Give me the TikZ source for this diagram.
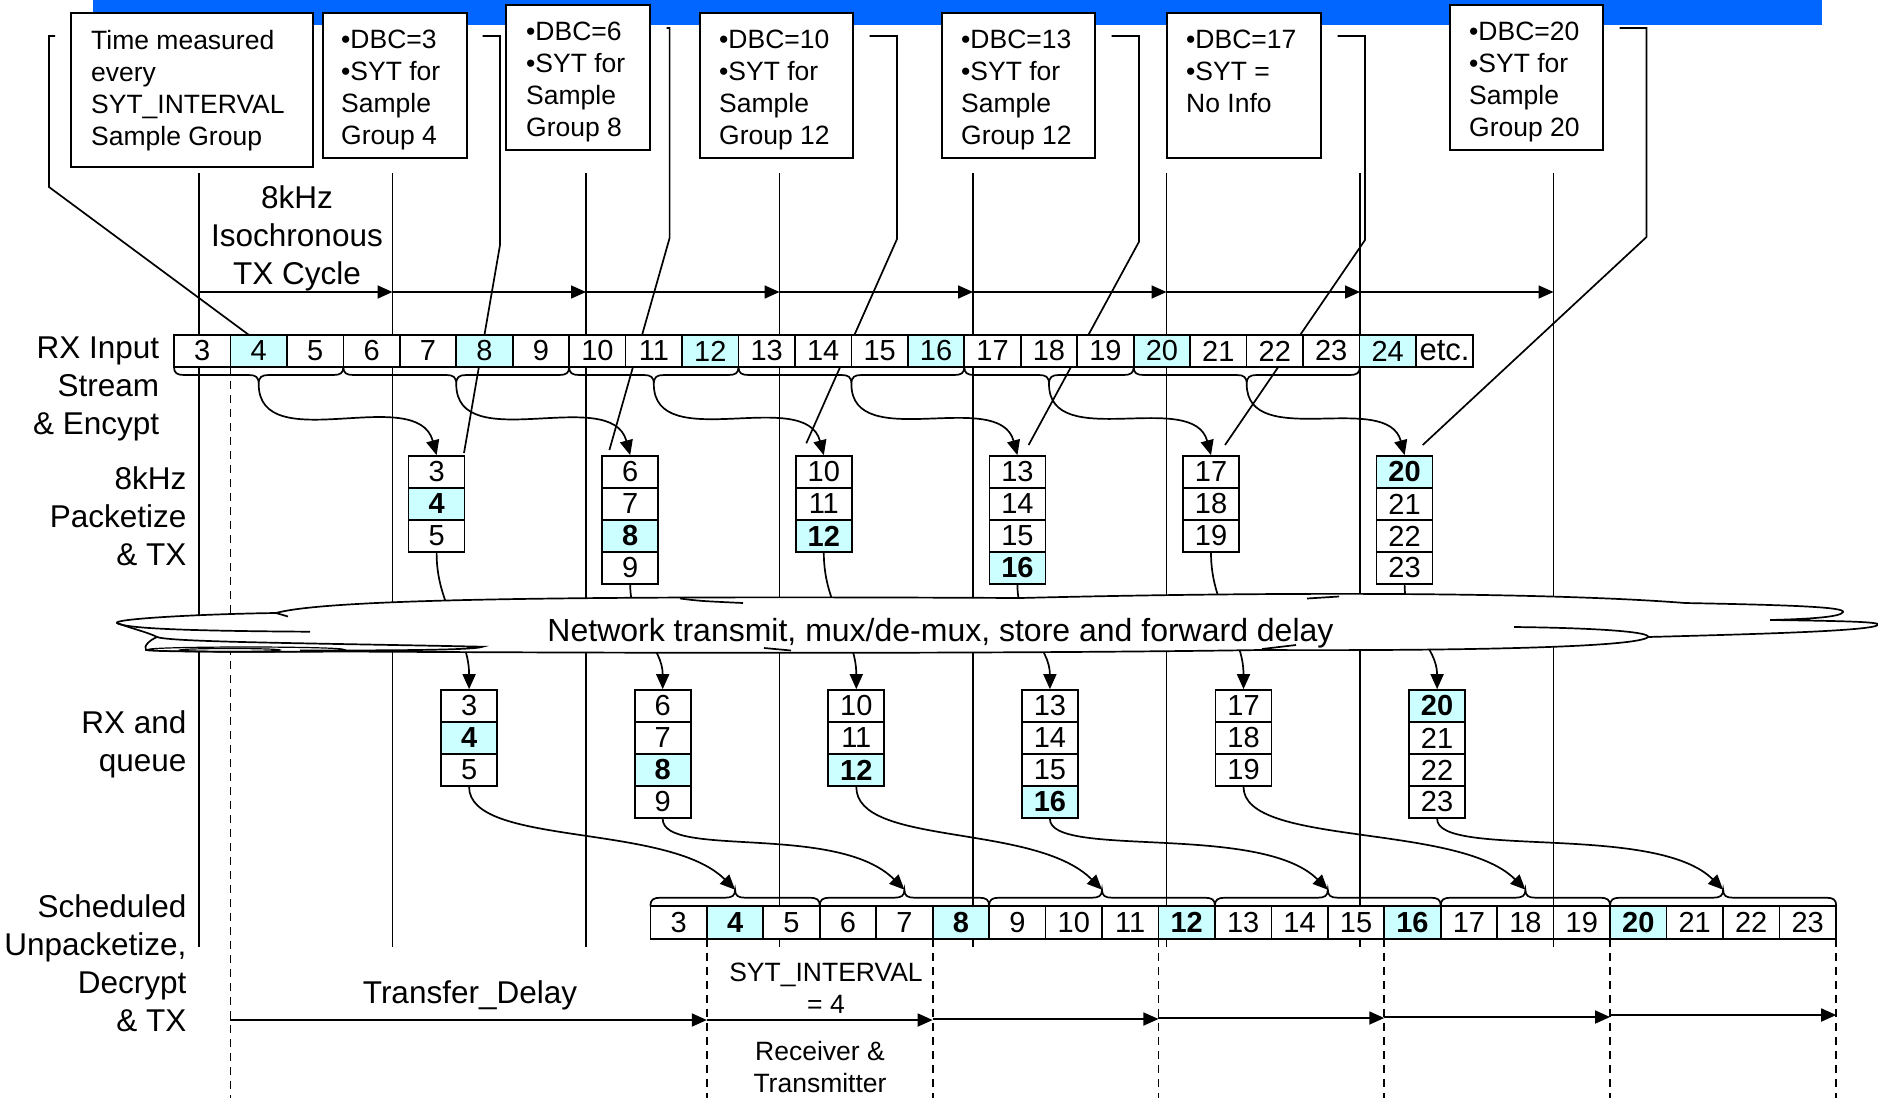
\documentclass[tikz,border=0pt]{standalone}
\usepackage{fontspec}
\setmainfont{Liberation Sans}
\usetikzlibrary{arrows.meta}
\definecolor{barblue}{RGB}{0,102,255}
\definecolor{cyanfill}{RGB}{204,255,255}
\newcommand\myBig{\fontsize{31.5}{38}\selectfont}
\newcommand\mySmall{\fontsize{26.5}{32}\selectfont}
\newcommand\myNum{\fontsize{29}{34}\selectfont}
\newcommand\bracedn[4]{%
  \draw[ln] (#1,#4) .. controls (#1,#4+6) and (#1+3,#4+8) .. (#1+10,#4+8) -- (#2-10,#4+8)
    .. controls (#2-3,#4+8) and (#2,#4+10) .. (#2,#4+17)
    .. controls (#2,#4+10) and (#2+3,#4+8) .. (#2+10,#4+8) -- (#3-10,#4+8)
    .. controls (#3-3,#4+8) and (#3,#4+6) .. (#3,#4);}
\newcommand\braceup[4]{%
  \draw[ln] (#1,#4) .. controls (#1,#4-6) and (#1+3,#4-8) .. (#1+10,#4-8) -- (#2-10,#4-8)
    .. controls (#2-3,#4-8) and (#2,#4-10) .. (#2,#4-16)
    .. controls (#2,#4-10) and (#2+3,#4-8) .. (#2+10,#4-8) -- (#3-10,#4-8)
    .. controls (#3-3,#4-8) and (#3,#4-6) .. (#3,#4);}
\tikzset{
  ln/.style={line width=1.7pt},
  cell/.style={draw, line width=1.7pt, fill=white, minimum width=56.45pt, minimum height=32pt, inner sep=0pt, font=\myNum},
  hcell/.style={cell, fill=cyanfill},
  bcell/.style={cell, fill=cyanfill, font=\myNum\bfseries},
  tbox/.style={draw, line width=1.7pt, fill=white, anchor=north west, inner sep=0pt},
  btext/.style={anchor=north west, inner sep=0pt, align=left, font=\mySmall},
  lab/.style={anchor=north east, inner sep=0pt, align=right, font=\myBig},
  arr/.style={line width=1.7pt, -{Triangle[length=15pt,width=13pt]}},
  dline/.style={line width=1.7pt, dash pattern=on 8pt off 6pt},
}
\begin{document}
\begin{tikzpicture}[x=1pt,y=-1pt]
\useasboundingbox (0,0) rectangle (1878,1098);
% blue bar
\fill[barblue] (93,0) rectangle (1822,25);

% vertical cycle lines
\foreach \i in {0,...,7}{
  \pgfmathsetmacro\xx{199+193.5*\i}
  \coordinate (vt\i) at (\xx,173);
  \coordinate (vb\i) at (\xx,947);
  \coordinate (cy\i) at (\xx,292);
  \draw[ln] (vt\i) -- (vb\i);
}
% 8kHz cycle arrows
\foreach \i [evaluate=\i as \j using int(\i+1)] in {0,...,6}{
  \draw[arr] (cy\i) -- (cy\j);
}
% long dashed line
\coordinate (dA) at (230.45,367);
\coordinate (dB) at (230.45,1098);
\draw[dline] (dA) -- (dB);

% top boxes
\node[tbox, minimum width=242pt, minimum height=154pt] (bA) at (70,12) {};
\node[tbox, minimum width=144pt, minimum height=145pt] (bB) at (322,12) {};
\node[tbox, minimum width=144pt, minimum height=145pt] (bC) at (505,4) {};
\node[tbox, minimum width=153pt, minimum height=145pt] (bD) at (699,12) {};
\node[tbox, minimum width=153pt, minimum height=145pt] (bE) at (941,12) {};
\node[tbox, minimum width=154pt, minimum height=145pt] (bF) at (1166,12) {};
\node[tbox, minimum width=153pt, minimum height=145pt] (bG) at (1449,4) {};
\node[btext] at ([shift={(21,17.8)}]bA.north west) {Time measured\\every\\SYT\_INTERVAL\\Sample Group};
\node[btext] at ([shift={(19,17.8)}]bB.north west) {•DBC=3\\•SYT for\\Sample\\Group 4};
\node[btext] at ([shift={(21,17.8)}]bC.north west) {•DBC=6\\•SYT for\\Sample\\Group 8};
\node[btext] at ([shift={(20,17.8)}]bD.north west) {•DBC=10\\•SYT for\\Sample\\Group 12};
\node[btext] at ([shift={(20,17.8)}]bE.north west) {•DBC=13\\•SYT for\\Sample\\Group 12};
\node[btext] at ([shift={(20,17.8)}]bF.north west) {•DBC=17\\•SYT =\\No Info};
\node[btext] at ([shift={(20,17.8)}]bG.north west) {•DBC=20\\•SYT for\\Sample\\Group 20};

% callout lines
\coordinate (eA) at (249,335);
\coordinate (eB) at (464,453);
\coordinate (eC) at (609.4,450);
\coordinate (eD) at (806.3,443.3);
\coordinate (eE) at (1028.6,445);
\coordinate (eF) at (1225,445);
\coordinate (eG) at (1422.7,445);
\draw[ln] ([shift={(-15,24)}]bA.north west) -| (49,187) -- (eA);
\draw[ln] ([shift={(15,24)}]bB.north east) -| (500,245) -- (eB);
\draw[ln] ([shift={(16,24)}]bC.north east) -| (669.6,238) -- (eC);
\draw[ln] ([shift={(16,24)}]bD.north east) -| (897,239) -- (eD);
\draw[ln] ([shift={(16,24)}]bE.north east) -| (1139,241.7) -- (eE);
\draw[ln] ([shift={(16,24)}]bF.north east) -| (1365,240) -- (eF);
\draw[ln] ([shift={(16,24)}]bG.north east) -| (1646.5,237) -- (eG);

% RX input stream row
\foreach \k in {3,...,24}{
  \pgfmathsetmacro\cx{174+(\k-3)*56.45+28.225}
  \pgfmathtruncatemacro\m{mod(\k,4)}
  \ifnum\m=0\relax
    \node[hcell] (t\k) at (\cx,351) {\k};
  \else
    \node[cell] (t\k) at (\cx,351) {\k};
  \fi
}
\node[cell, font=\fontsize{31}{34}\selectfont] (tetc) at (1444.5,351) {etc.};

% scheduled output row
\foreach \k in {3,...,23}{
  \pgfmathsetmacro\cx{650.4+(\k-3)*56.45+28.225}
  \pgfmathtruncatemacro\m{mod(\k,4)}
  \ifnum\m=0\relax
    \node[bcell, minimum height=33pt] (o\k) at (\cx,922.2) {\k};
  \else
    \node[cell, minimum height=33pt] (o\k) at (\cx,922.2) {\k};
  \fi
}

% packet and RX queue boxes
\foreach \j/\lst in {0/{3,4,5},1/{6,7,8,9},2/{10,11,12},3/{13,14,15,16},4/{17,18,19},5/{20,21,22,23}}{
  \pgfmathsetmacro\px{436.6+193.6*\j}
  \pgfmathsetmacro\rx{\px+32.5}
  \foreach \n [count=\r] in \lst {
    \pgfmathsetmacro\py{472+32*(\r-1)}
    \pgfmathsetmacro\ry{706+32*(\r-1)}
    \pgfmathtruncatemacro\m{mod(\n,4)}
    \ifnum\m=0\relax
      \node[bcell, minimum width=56pt] (p\j-\r) at (\px,\py) {\n};
      \node[bcell, minimum width=56pt] (r\j-\r) at (\rx,\ry) {\n};
    \else
      \node[cell, minimum width=56pt] (p\j-\r) at (\px,\py) {\n};
      \node[cell, minimum width=56pt] (r\j-\r) at (\rx,\ry) {\n};
    \fi
  }
}

% packet -> RX connectors (through the cloud)
\foreach \j in {0,...,5}{
  \pgfmathtruncatemacro\nr{3+mod(\j,2)}
  \draw[arr] (p\j-\nr.south) to[out=-90,in=90] (r\j-1.north);
}

% cloud
\path[fill=white, draw=black, line width=1.7pt]
  (276,613)
  .. controls (330,598) and (600,596) .. (1020,598)
  .. controls (1300,591) and (1560,593) .. (1685,603)
  .. controls (1790,605) and (1845,607) .. (1843,612)
  .. controls (1841,617) and (1810,619) .. (1770,620)
  .. controls (1850,621) and (1882,622) .. (1878,625)
  .. controls (1870,631) and (1760,634) .. (1648,637)
  .. controls (1640,646) and (1500,651) .. (1260,650)
  .. controls (1000,654) and (600,653) .. (345,651.5)
  .. controls (280,652) and (150,652) .. (146,650)
  .. controls (143,646) and (150,640) .. (157,637)
  .. controls (150,633) and (130,628) .. (117,623)
  .. controls (112,619) and (200,614) .. (276,613)
  -- cycle;
\draw[ln] (117,623) .. controls (125,629) and (200,631) .. (310,631.7);
\draw[ln] (157,637) .. controls (170,642) and (300,643) .. (482.7,646.7)
  .. controls (475,650) and (400,650.5) .. (300,650.5);
\draw[ln] (276,613) .. controls (282,615) .. (288,616.5);
\draw[ln] (680,598.5) .. controls (700,601) .. (743,603);
\draw[ln] (1307,598.5) -- (1339,596.5);
\draw[ln] (1514,627) .. controls (1600,628) and (1650,632) .. (1648,637);
\draw[ln] (764,648) .. controls (775,649) .. (791,650.5);
\draw[ln] (1262,649) -- (1296,645);
\draw[line width=1.2pt] (246,649.5) ellipse [x radius=98, y radius=2.5];
\draw[line width=1.2pt] (230,650) ellipse [x radius=50, y radius=1.5];
\node[anchor=base, inner sep=0pt, font=\fontsize{32}{38}\selectfont] (net) at (940.5,641.7) {Network transmit, mux/de-mux, store and forward delay};

% braces
\bracedn{174}{258.7}{343.35}{367}
\bracedn{343.35}{456.25}{569.15}{367}
\bracedn{569.15}{653.8}{738.5}{367}
\bracedn{738.5}{851.4}{964.3}{367}
\bracedn{964.3}{1049}{1133.65}{367}
\bracedn{1133.65}{1246.7}{1359.8}{367}
\braceup{650.4}{735.1}{819.75}{905.7}
\braceup{819.75}{904.4}{989.1}{905.7}
\braceup{989.1}{1102}{1214.9}{905.7}
\braceup{1214.9}{1327.8}{1440.7}{905.7}
\braceup{1440.7}{1525.4}{1610.05}{905.7}
\braceup{1610.05}{1723.1}{1836.2}{905.7}
\coordinate (bt0) at (258.7,384);
\coordinate (bt1) at (456.25,384);
\coordinate (bt2) at (653.8,384);
\coordinate (bt3) at (851.4,384);
\coordinate (bt4) at (1049,384);
\coordinate (bt5) at (1246.7,384);
\coordinate (bb0) at (735.1,889.7);
\coordinate (bb1) at (904.4,889.7);
\coordinate (bb2) at (1102,889.7);
\coordinate (bb3) at (1327.8,889.7);
\coordinate (bb4) at (1525.4,889.7);
\coordinate (bb5) at (1723.1,889.7);
\foreach \j in {0,...,5}{
  \pgfmathtruncatemacro\nr{3+mod(\j,2)}
  \pgfmathsetmacro\od{mod(\j,2)==0 ? 60 : 40}
  \draw[arr] (bt\j) to[out=-90,in=105] (p\j-1.north);
  \draw[arr] (r\j-\nr.south) to[out=-90,in=135,out distance=\od pt,in distance=95pt] (bb\j);
}

% bottom dashed lines and interval arrows
\foreach \i/\xx in {1/706.85,2/932.65,3/1158.45,4/1384.25,5/1610.05,6/1836.2}{
  \coordinate (qt\i) at (\xx,938.8);
  \coordinate (qb\i) at (\xx,1098);
  \draw[dline] (qt\i) -- (qb\i);
}
\coordinate (s0) at (230.45,1020); \coordinate (f0) at (706.85,1020);
\coordinate (s1) at (706.85,1020); \coordinate (f1) at (932.65,1020);
\coordinate (s2) at (932.65,1019); \coordinate (f2) at (1158.45,1019);
\coordinate (s3) at (1158.45,1018); \coordinate (f3) at (1384.25,1018);
\coordinate (s4) at (1384.25,1017); \coordinate (f4) at (1610.05,1017);
\coordinate (s5) at (1610.05,1015); \coordinate (f5) at (1836.2,1015);
\foreach \i in {0,...,5}{ \draw[arr] (s\i) -- (f\i); }

% labels
\node[lab] (l1) at (159.4,336.6) {RX Input\\Stream\\\& Encypt};
\node[lab] (l2) at (186.6,466.6) {8kHz\\Packetize\\\& TX};
\node[lab] (l3) at (186.6,710.3) {RX and\\queue};
\node[lab] (l4) at (186.6,894.3) {Scheduled\\Unpacketize,\\Decrypt\\\& TX};
\node[anchor=north, align=center, inner sep=0pt, font=\myBig] (cyc) at (297,185.6) {8kHz\\Isochronous\\TX Cycle};
\node[anchor=base, inner sep=0pt, font=\myBig] (td) at (470,1003) {Transfer\_Delay};
\node[anchor=north, align=center, inner sep=0pt, font=\mySmall] (syt) at (826,962.3) {SYT\_INTERVAL\\= 4};
\node[anchor=north, align=center, inner sep=0pt, font=\mySmall] (rt) at (820,1040.6) {Receiver \&\\Transmitter};
\end{tikzpicture}
\end{document}
